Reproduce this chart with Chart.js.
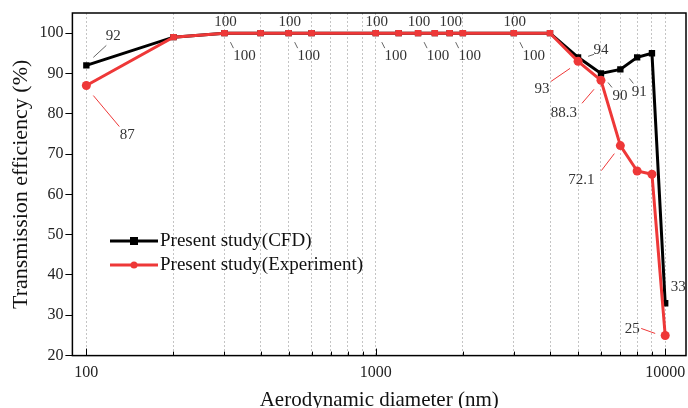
<!DOCTYPE html>
<html>
<head>
<meta charset="utf-8">
<script src="https://cdn.jsdelivr.net/npm/chart.js@4.4.1/dist/chart.umd.min.js"></script>
<style>
  html, body { margin: 0; padding: 0; background: #fff; }
  #wrap { width: 688px; height: 408px; }
</style>
</head>
<body>
<div id="wrap"><canvas id="myChart" width="688" height="408"></canvas></div>
<script>
// data
const diameters = [100, 200, 300, 400, 500, 600, 1000, 1200, 1400, 1600, 1800, 2000, 3000, 4000, 5000, 6000, 7000, 8000, 9000, 10000];
const cfdValues = [92, 99, 100, 100, 100, 100, 100, 100, 100, 100, 100, 100, 100, 100, 94, 90, 91, 94, 95, 33];
const expValues = [87, 99, 100, 100, 100, 100, 100, 100, 100, 100, 100, 100, 100, 100, 93, 88.3, 72.1, 65.8, 65, 25];
const xTickValues = [100, 200, 300, 400, 500, 600, 700, 800, 900, 1000, 2000, 3000, 4000, 5000, 6000, 7000, 8000, 9000, 10000];
const xTickLabels = [100, 1000, 10000];
const yTickValues = [20, 30, 40, 50, 60, 70, 80, 90, 100];

const FONT = "'Liberation Serif', 'DejaVu Serif', serif";
const RED = '#ee3838';

// labels on points: series, index, text, text offset, leader line offsets
const notes = [
  {ds: 0, i: 0, text: '92', tx: 27, ty: -29, line: [7, -8, 20, -20], lc: '#666'},
  {ds: 0, i: 2, text: '100', tx: 1, ty: -11},
  {ds: 0, i: 4, text: '100', tx: 1, ty: -11},
  {ds: 0, i: 6, text: '100', tx: 1, ty: -11},
  {ds: 0, i: 8, text: '100', tx: 1, ty: -11},
  {ds: 0, i: 10, text: '100', tx: 1, ty: -11},
  {ds: 0, i: 12, text: '100', tx: 1, ty: -11},
  {ds: 0, i: 14, text: '94', tx: 23, ty: -7, line: [10, -1, 16, -3], lc: '#666'},
  {ds: 0, i: 15, text: '90', tx: 19, ty: 23, line: [7, 9, 11, 14], lc: '#666'},
  {ds: 0, i: 16, text: '91', tx: 19, ty: 23, line: [9, 9, 13, 14], lc: '#666'},
  {ds: 0, i: 19, text: '33', tx: 13, ty: -16},
  {ds: 1, i: 0, text: '87', tx: 41, ty: 50, line: [7, 10, 33, 41], lc: RED},
  {ds: 1, i: 2, text: '100', tx: 20, ty: 23, line: [6, 9, 9, 15], lc: '#666'},
  {ds: 1, i: 4, text: '100', tx: 20, ty: 23, line: [6, 9, 9, 15], lc: '#666'},
  {ds: 1, i: 6, text: '100', tx: 20, ty: 23, line: [6, 9, 9, 15], lc: '#666'},
  {ds: 1, i: 8, text: '100', tx: 20, ty: 23, line: [6, 9, 9, 15], lc: '#666'},
  {ds: 1, i: 10, text: '100', tx: 20, ty: 23, line: [6, 9, 9, 15], lc: '#666'},
  {ds: 1, i: 12, text: '100', tx: 20, ty: 23, line: [6, 9, 9, 15], lc: '#666'},
  {ds: 1, i: 14, text: '93', tx: -36, ty: 28, line: [-27, 20, -8, 7], lc: RED},
  {ds: 1, i: 15, text: '88.3', tx: -37, ty: 33, line: [-19, 23, -7, 9], lc: RED},
  {ds: 1, i: 16, text: '72.1', tx: -39, ty: 34, line: [-19, 25, -6, 8], lc: RED},
  {ds: 1, i: 19, text: '25', tx: -33, ty: -6, line: [-24, -7, -10, -2], lc: RED}
];

const notePlugin = {
  id: 'notes',
  afterDatasetsDraw(chart) {
    const ctx = chart.ctx;
    ctx.save();
    ctx.font = '15px ' + FONT;
    ctx.textAlign = 'center';
    ctx.textBaseline = 'middle';
    notes.forEach(n => {
      const pt = chart.getDatasetMeta(n.ds).data[n.i];
      if (n.line) {
        ctx.strokeStyle = n.lc;
        ctx.lineWidth = 1;
        ctx.beginPath();
        ctx.moveTo(pt.x + n.line[0], pt.y + n.line[1]);
        ctx.lineTo(pt.x + n.line[2], pt.y + n.line[3]);
        ctx.stroke();
      }
      ctx.fillStyle = '#333';
      ctx.fillText(n.text, pt.x + n.tx, pt.y + n.ty);
    });
    ctx.restore();
  }
};

// frame, inward x ticks, legend inside plot
const framePlugin = {
  id: 'frame',
  afterDraw(chart) {
    const ctx = chart.ctx;
    const a = chart.chartArea;
    const xs = chart.scales.x;
    ctx.save();
    ctx.strokeStyle = '#000';
    ctx.lineWidth = 1.5;
    ctx.strokeRect(a.left, a.top, a.right - a.left, a.bottom - a.top);
    ctx.lineWidth = 1;
    xTickValues.forEach(v => {
      const x = Math.round(xs.getPixelForValue(v)) + 0.5;
      const len = xTickLabels.includes(v) ? 7 : 4;
      ctx.beginPath();
      ctx.moveTo(x, a.bottom);
      ctx.lineTo(x, a.bottom - len);
      ctx.stroke();
    });

    // legend
    const items = chart.data.datasets;
    const lx = 110, ly = 241, gap = 24;
    ctx.font = '19px ' + FONT;
    ctx.textBaseline = 'middle';
    ctx.textAlign = 'left';
    items.forEach((ds, k) => {
      const y = ly + k * gap;
      ctx.strokeStyle = ds.borderColor;
      ctx.lineWidth = 3;
      ctx.beginPath();
      ctx.moveTo(lx, y);
      ctx.lineTo(lx + 48, y);
      ctx.stroke();
      ctx.fillStyle = ds.borderColor;
      if (k === 0) {
        ctx.fillRect(lx + 20, y - 4, 8, 8);
      } else {
        ctx.beginPath();
        ctx.arc(lx + 24, y, 3.5, 0, Math.PI * 2);
        ctx.fill();
      }
      ctx.fillStyle = '#111';
      ctx.fillText(ds.label, lx + 50, y);
    });
    ctx.restore();
  }
};

const data = {
  labels: diameters,
  datasets: [
    {
      label: 'Present study(CFD)',
      data: diameters.map((d, k) => ({x: d, y: cfdValues[k]})),
      borderColor: '#000',
      backgroundColor: '#000',
      borderWidth: 3,
      pointStyle: 'rect',
      pointRadius: 4.5,
      pointBorderWidth: 0,
      order: 2
    },
    {
      label: 'Present study(Experiment)',
      data: diameters.map((d, k) => ({x: d, y: expValues[k]})),
      borderColor: RED,
      backgroundColor: RED,
      borderWidth: 3,
      pointStyle: expValues.map(v => v >= 99 ? 'rect' : 'circle'),
      pointRadius: 4.5,
      pointBorderWidth: 0,
      order: 1
    }
  ]
};

const config = {
  type: 'line',
  data: data,
  options: {
    responsive: false,
    animation: false,
    layout: {
      autoPadding: false,
      padding: {left: 8, right: 2, top: 13, bottom: -5}
    },
    plugins: {
      legend: {display: false},
      tooltip: {enabled: false}
    },
    scales: {
      x: {
        type: 'logarithmic',
        min: 89.5,
        max: 11800,
        afterBuildTicks: scale => { scale.ticks = xTickValues.map(v => ({value: v})); },
        afterFit: scale => { scale.paddingRight = 0; scale.paddingLeft = 0; },
        grid: {
          color: '#c4c4c4',
          lineWidth: 1,
          drawTicks: false
        },
        border: {display: false, dash: [2, 2]},
        ticks: {
          autoSkip: false,
          maxRotation: 0,
          padding: 8,
          color: '#222',
          font: {family: FONT, size: 16},
          callback: v => xTickLabels.includes(v) ? String(v) : ''
        },
        title: {
          display: true,
          text: 'Aerodynamic diameter (nm)',
          color: '#111',
          font: {family: FONT, size: 21},
          padding: {top: -3, bottom: 0}
        }
      },
      y: {
        min: 20,
        max: 105,
        afterBuildTicks: scale => { scale.ticks = yTickValues.map(v => ({value: v})); },
        grid: {
          drawOnChartArea: false,
          color: '#000',
          tickLength: 7
        },
        border: {display: false},
        ticks: {
          padding: 2,
          color: '#222',
          font: {family: FONT, size: 16}
        },
        title: {
          display: true,
          text: 'Transmission efficiency (%)',
          color: '#111',
          font: {family: FONT, size: 22},
          padding: {top: 0, bottom: 3}
        }
      }
    }
  },
  plugins: [notePlugin, framePlugin]
};

const myChart = new Chart(document.getElementById('myChart'), config);
</script>
</body>
</html>
